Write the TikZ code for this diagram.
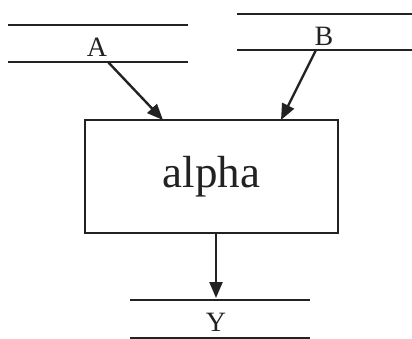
\documentclass[tikz,border=0pt]{standalone}
\usepackage{fontspec}
\setmainfont{Liberation Serif}
\usetikzlibrary{arrows.meta}
\definecolor{ink}{HTML}{222222}
\tikzset{
  storeline/.style={draw=ink, line width=2.4pt},
  lbl/.style={inner sep=0pt, text=ink, font=\fontsize{28}{30}\selectfont},
  procbox/.style={draw=ink, line width=2.4pt, minimum width=253pt, minimum height=113pt, inner sep=0pt, text=ink, font=\fontsize{45}{48}\selectfont},
  flow/.style={draw=ink, line width=2.4pt, -{Triangle[length=16pt,width=13pt]}}
}
\begin{document}
\begin{tikzpicture}[x=1pt,y=-1pt]
\useasboundingbox (0,0) rectangle (412,339);
% store A
\coordinate (a1) at (8,25); \coordinate (a2) at (188,25);
\coordinate (a3) at (8,62); \coordinate (a4) at (188,62);
\draw[storeline] (a1) -- (a2);
\draw[storeline] (a3) -- (a4);
\node[lbl] (la) at (97,47) {A};
% store B
\coordinate (b1) at (237,14); \coordinate (b2) at (412,14);
\coordinate (b3) at (237,50); \coordinate (b4) at (412,50);
\draw[storeline] (b1) -- (b2);
\draw[storeline] (b3) -- (b4);
\node[lbl] (lb) at (324,36) {B};
% process
\node[procbox] (alpha) at (211.5,176.5) {alpha};
% store Y
\coordinate (y1) at (130,300); \coordinate (y2) at (310,300);
\coordinate (y3) at (130,338); \coordinate (y4) at (310,338);
\draw[storeline] (y1) -- (y2);
\draw[storeline] (y3) -- (y4);
\node[lbl] (ly) at (216,322) {Y};
% flows
\coordinate (sa) at (108,62);
\coordinate (ea) at (163,120);
\coordinate (sb) at (316,50);
\coordinate (eb) at (281,120);
\coordinate (sy) at (216,233);
\coordinate (ey) at (216,298);
\draw[flow] (sa) -- (ea);
\draw[flow] (sb) -- (eb);
\draw[flow] (sy) -- (ey);
\end{tikzpicture}
\end{document}
